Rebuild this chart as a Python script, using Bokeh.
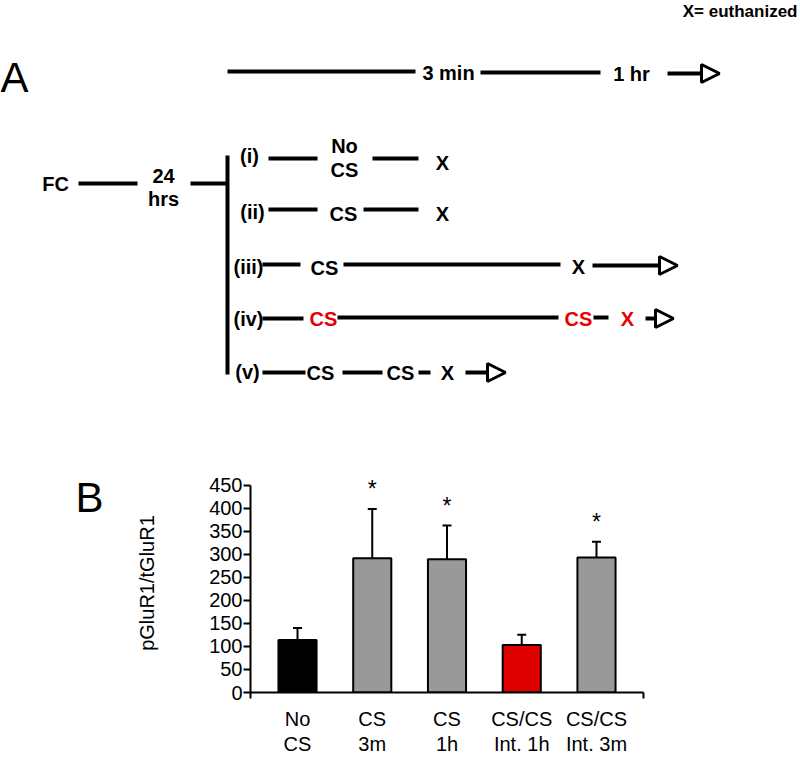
from bokeh.plotting import figure
from bokeh.models import (Range1d, ColumnDataSource, Whisker, TeeHead, LabelSet,
                          FixedTicker, Arrow, NormalHead, LinearAxis)
from bokeh.core.properties import value
from bokeh.embed import file_html
from bokeh.resources import INLINE

# ---------------- Panel B data ----------------
groups = ["No\nCS", "CS\n3m", "CS\n1h", "CS/CS\nInt. 1h", "CS/CS\nInt. 3m"]
means = [114, 291, 289, 103, 293]
err_top = [140, 398, 362, 125, 327]
stars = ["", "*", "*", "", "*"]
bar_colors = ["#000000", "#999999", "#999999", "#e00000", "#999999"]
y_ticks = [0, 50, 100, 150, 200, 250, 300, 350, 400, 450]
y_label = "pGluR1/tGluR1"
panel_b_label = "B"

# ---------------- Panel A diagram (layout in page pixels) ----------------
FONT = "Liberation Sans"
RED = "#e60000"
BLK = "#000000"

diag_text = ["3 min", "1 hr", "FC", "24", "hrs",
             "(i)", "No", "CS", "X",
             "(ii)", "CS", "X",
             "(iii)", "CS", "X",
             "(iv)", "CS", "CS", "X",
             "(v)", "CS", "CS", "X"]
diag_tx = [448, 631, 55, 163, 163,
           249, 344, 344, 442,
           252, 343, 442,
           248, 324, 578,
           248, 323, 578, 627,
           247, 320, 400, 447]
diag_ty = [72, 73, 183, 175, 198,
           155, 145, 169, 162,
           211, 213, 213,
           266, 267, 266,
           318, 318, 318, 318,
           371, 372, 372, 372]
diag_tc = [BLK] * 16 + [RED, RED, RED] + [BLK] * 4

seg_x0 = [227, 480, 78, 190, 268, 372, 268, 363, 262, 343, 262, 337, 593, 262, 342, 418]
seg_x1 = [415, 600, 137, 227, 317, 418, 317, 418, 300, 560, 303, 558, 608, 305, 382, 430]
seg_y = [71, 72, 183, 183, 158, 158, 209, 209, 264, 264, 318, 317, 317, 372, 372, 372]

bar_x = [227]
bar_y0 = [155]
bar_y1 = [374]

arr_x0 = [667, 592, 645, 465]
arr_x1 = [719, 677, 673, 505]
arr_y = [73, 265, 318, 372]

# ---------------- Figure A ----------------
pa = figure(width=800, height=460, x_range=Range1d(0, 800), y_range=Range1d(460, 0),
            output_backend="svg", toolbar_location=None, min_border=0,
            x_axis_location=None, y_axis_location=None)
pa.grid.visible = False
pa.outline_line_color = None

pa.segment(x0=seg_x0, y0=seg_y, x1=seg_x1, y1=seg_y, line_width=4,
           line_color=BLK, line_cap="butt")
pa.segment(x0=bar_x, y0=bar_y0, x1=bar_x, y1=bar_y1, line_width=4,
           line_color=BLK, line_cap="butt")

arr_src = ColumnDataSource(dict(x0=arr_x0, x1=arr_x1, y=arr_y))
pa.add_layout(Arrow(x_start="x0", y_start="y", x_end="x1", y_end="y", source=arr_src,
                    line_width=4, line_color=BLK,
                    end=NormalHead(size=18, line_width=3, line_color=BLK, fill_color="white")))

pa.text(x=diag_tx, y=diag_ty, text=diag_text, text_color=diag_tc,
        text_font=value(FONT), text_font_style="bold", text_font_size="20px",
        text_align="center", text_baseline="middle")

pa.text(x=[14], y=[77], text=["A"], text_font=value(FONT), text_font_size="42px",
        text_align="center", text_baseline="middle", text_color=BLK)
pa.text(x=[797], y=[11], text=["X= euthanized"], text_font=value(FONT),
        text_font_style="bold", text_font_size="17px",
        text_align="right", text_baseline="middle", text_color=BLK)

# ---------------- Figure B ----------------
xs = [1, 2, 3, 4, 5]
src = ColumnDataSource(dict(x=xs, mean=means, err=err_top, star=stars, color=bar_colors))

pb = figure(width=800, height=297, x_range=Range1d(0.371, 5.629), y_range=Range1d(0, 475),
            output_backend="svg", toolbar_location=None,
            min_border_left=250, min_border_right=157, min_border_top=13, min_border_bottom=63)
pb.grid.visible = False
pb.outline_line_color = None

pb.vbar(x="x", top="mean", width=0.51, source=src, fill_color="color",
        line_color=BLK, line_width=2)
pb.add_layout(Whisker(base="x", lower="mean", upper="err", source=src, dimension="height",
                      line_width=2, line_color=BLK, lower_head=None,
                      upper_head=TeeHead(size=9, line_width=2, line_color=BLK)))
pb.add_layout(LabelSet(x="x", y="err", text="star", source=src, y_offset=12,
                       text_font=value(FONT), text_font_size="23px", text_color=BLK,
                       text_align="center", text_baseline="alphabetic"))

yax = pb.yaxis[0]
yax.ticker = FixedTicker(ticks=y_ticks, minor_ticks=[])
yax.bounds = (0, 450)
yax.axis_line_width = 2
yax.major_tick_line_width = 2
yax.major_tick_out = 7
yax.major_tick_in = 0
yax.minor_tick_line_color = None
yax.major_label_standoff = 1
yax.major_label_text_font = FONT
yax.major_label_text_font_size = "20px"
yax.major_label_text_color = BLK
yax.axis_label = y_label
yax.axis_label_text_font = FONT
yax.axis_label_text_font_size = "20px"
yax.axis_label_text_font_style = "normal"
yax.axis_label_text_color = BLK
yax.axis_label_standoff = 48

# panel letter "B" as the only tick label of an outer, line-less axis
bax = LinearAxis(ticker=FixedTicker(ticks=[424], minor_ticks=[]),
                 major_label_overrides={424: panel_b_label},
                 axis_line_color=None, major_tick_line_color=None,
                 minor_tick_line_color=None, major_tick_out=0, major_tick_in=0,
                 major_label_standoff=30, major_label_text_font=FONT,
                 major_label_text_font_size="42px", major_label_text_color=BLK)
pb.add_layout(bax, "left")

xax = pb.xaxis[0]
xax.ticker = FixedTicker(ticks=xs, minor_ticks=[0.372, 5.628])
xax.major_label_overrides = {x: g for x, g in zip(xs, groups)}
xax.axis_line_width = 2
xax.major_tick_line_color = None
xax.major_tick_out = 0
xax.major_tick_in = 0
xax.minor_tick_out = 6
xax.minor_tick_in = 0
xax.minor_tick_line_width = 2
xax.major_label_standoff = 9
xax.major_label_text_font = FONT
xax.major_label_text_font_size = "20px"
xax.major_label_text_line_height = 1.15
xax.major_label_text_color = BLK

open("out.html", "w").write(file_html([pa, pb], INLINE))
